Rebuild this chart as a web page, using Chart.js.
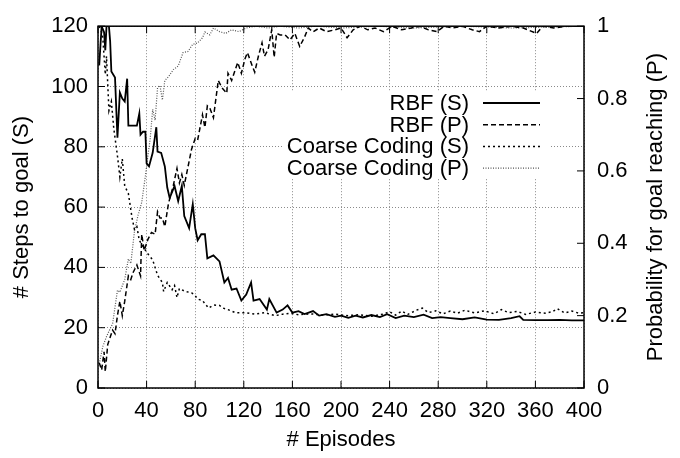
<!DOCTYPE html>
<html>
<head>
<meta charset="utf-8">
<script src="https://cdn.jsdelivr.net/npm/chart.js@4.4.0/dist/chart.umd.min.js"></script>
<style>
  html, body { margin: 0; padding: 0; background: #fff; }
</style>
</head>
<body>
<canvas id="c" width="680" height="458"></canvas>
<script>
// values: episode numbers + value per series
const seriesNames = ['RBF (S)', 'RBF (P)', 'Coarse Coding (S)', 'Coarse Coding (P)'];

const rbfStepsEp = [1,3,5,6,7,9,10,11,14,16,18,20,22,24,25,28,32,34,35,37,39,40,42,45,48,49,52,55,57,59,63,66,69,71,75,78,80,82,85,88,90,95,100,104,107,110,114,118,122,126,128,133,139,141,147,152,156,160,165,170,177,182,188,195,200,206,212,218,225,232,238,245,252,260,268,275,282,290,300,310,320,330,340,347,350,360,370,380,390,400];
const rbfSteps = [107,120,118,112,120,120,115,105,103,83,98,96,95,102.6,87,87,87,91,84,85,85,74.5,73.5,78,86.5,78.4,78,73.5,66.5,63,67,62,67,57,53,61,53,49,51,51,43,44,42,35,36.5,32.6,33,29,31,35,29,29.5,26,29.5,25,26,27.4,25,25.5,24.5,25.5,24,24.5,23.6,24,23.3,24,23.4,24.2,23.5,24.5,23.2,24,23.5,24.3,23.2,23.5,23.2,22.8,23.4,22.7,22.6,23.2,23.8,22.6,22.5,22.5,22.6,22.4,22.4];

const rbfProbEp = [1,3,5,6,8,10,12,14,16,18,20,22,25,27,29,32,35,36,38,41,44,47,49,51,53,55,58,62,65,67,69,71,74,77,80,82,84,86,88,90,92,95,99,102,106,107,110,113,115,118,121,123,127,129,132,135,137,140,143,145,147,150,154,158,162,166,170,173,177,182,188,195,200,205,210,216,222,228,235,242,250,258,265,272,279,285,292,300,308,314,320,330,340,350,361,366,375,385,400];
const rbfProb = [0.07,0.05,0.1,0.045,0.12,0.14,0.16,0.15,0.2,0.24,0.2,0.24,0.31,0.3,0.32,0.34,0.31,0.425,0.38,0.41,0.43,0.425,0.487,0.47,0.47,0.446,0.51,0.56,0.607,0.567,0.59,0.56,0.61,0.66,0.69,0.685,0.72,0.755,0.72,0.78,0.774,0.747,0.85,0.83,0.815,0.87,0.85,0.88,0.9,0.87,0.91,0.927,0.89,0.873,0.917,0.954,0.917,0.935,0.99,0.914,0.98,0.976,0.976,0.962,0.98,0.944,0.97,0.995,0.984,0.995,0.985,0.99,0.995,0.968,0.99,1,0.99,0.995,0.985,1,0.99,0.995,1,0.99,0.985,1,0.995,1,0.99,0.985,1,0.995,1,0.995,0.98,1,0.995,1,1];

const ccStepsEp = [1,3,4,6,7,9,11,13,14,16,18,20,22,25,28,30,32,34,37,40,45,49,53,54,57,61,63,65,67,72,77,80,82,86,91,95,100,103,107,113,121,129,137,146,152,158,165,175,185,195,205,215,225,235,240,245,250,255,262,267,272,278,284,290,296,302,310,318,326,332,338,345,352,360,368,374,378,384,390,396,400];
const ccSteps = [120,118,116,104,110,92,95,86,83,77,70,76,67,64.5,56.5,52.6,53.5,49,47,45,42.5,37.4,35,32,35,32.6,34,30,33,32,31.6,30.6,29.5,29,26.5,27.5,27.4,26.5,26,25,25,24.5,25,24,24.5,24.8,24.3,24.6,24.2,24.5,24,24.3,23.8,24.5,25.3,24.2,25.5,24.4,25.8,26.5,25,25.6,24.6,25.5,24.8,25.8,24.9,25.6,24.6,26,25,25.4,24.4,25.2,24.8,25.3,26.3,24.9,25.5,24.8,25];

const ccProbEp = [1,4,7,10,12,16,18,22,25,27,30,33,36,39,41,43,45,47,49,51,53,55,58,62,66,70,74,78,82,86,88,92,95,100,105,110,116,122,130,140,150,165,180,200,230,260,300,340,400];
const ccProb = [0.067,0.115,0.142,0.164,0.177,0.27,0.265,0.3,0.357,0.344,0.433,0.478,0.513,0.586,0.64,0.69,0.77,0.74,0.83,0.836,0.796,0.85,0.86,0.88,0.89,0.927,0.93,0.95,0.954,0.968,0.984,0.976,0.995,0.985,0.98,0.99,0.985,0.995,1,0.995,1,0.995,1,0.995,1,0.995,1,0.995,1];

const FONT = "'Liberation Sans', Arial, sans-serif";
const FS = 22;
const styles = [
  { color: '#000', width: 1.8, dash: [] },
  { color: '#000', width: 1.5, dash: [5, 3] },
  { color: '#000', width: 1.5, dash: [2, 3] },
  { color: '#555', width: 1.2, dash: [1, 1.5] }
];

function pts(ep, v) { return ep.map((e, i) => ({ x: e, y: v[i] })); }

const seriesData = [pts(rbfStepsEp, rbfSteps), pts(rbfProbEp, rbfProb), pts(ccStepsEp, ccSteps), pts(ccProbEp, ccProb)];
const axisOf = ['y', 'y1', 'y', 'y1'];

// gnuplot-like frame, inward tics, opaque key, right label
const gnuplotBits = {
  id: 'gnuplotBits',
  afterDatasetsDraw(chart) {
    const ctx = chart.ctx, a = chart.chartArea;
    const sx = chart.scales.x, sy = chart.scales.y, sy1 = chart.scales.y1;
    ctx.save();
    // key
    ctx.fillStyle = '#fff';
    ctx.fillRect(284, 91, 266, 88);
    ctx.font = FS + 'px ' + FONT;
    ctx.textAlign = 'right';
    ctx.textBaseline = 'middle';
    ctx.fillStyle = '#000';
    seriesNames.forEach((n, i) => {
      const y = 103 + i * 21.7;
      ctx.fillText(n, 469, y + 1);
      ctx.beginPath();
      ctx.strokeStyle = styles[i].color;
      ctx.lineWidth = styles[i].width;
      ctx.setLineDash(styles[i].dash);
      ctx.moveTo(483, y); ctx.lineTo(540, y);
      ctx.stroke();
    });
    ctx.setLineDash([]);
    // tics
    ctx.strokeStyle = '#000';
    ctx.lineWidth = 1;
    ctx.beginPath();
    sx.ticks.forEach(t => {
      const px = sx.getPixelForValue(t.value);
      ctx.moveTo(px, a.bottom); ctx.lineTo(px, a.bottom - 7);
      ctx.moveTo(px, a.top); ctx.lineTo(px, a.top + 7);
    });
    sy.ticks.forEach(t => {
      const py = sy.getPixelForValue(t.value);
      ctx.moveTo(a.left, py); ctx.lineTo(a.left + 7, py);
    });
    sy1.ticks.forEach(t => {
      const py = sy1.getPixelForValue(t.value);
      ctx.moveTo(a.right, py); ctx.lineTo(a.right - 7, py);
    });
    ctx.stroke();
    // frame
    ctx.lineWidth = 1.5;
    ctx.strokeRect(a.left, a.top, a.right - a.left, a.bottom - a.top);
    // right axis label, reads bottom to top
    ctx.translate(656, (a.top + a.bottom) / 2);
    ctx.rotate(-Math.PI / 2);
    ctx.textAlign = 'center';
    ctx.font = FS + 'px ' + FONT;
    ctx.fillText('Probability for goal reaching (P)', 0, 0);
    ctx.restore();
  }
};

const gridCol = '#8a8a8a';

new Chart(document.getElementById('c'), {
  type: 'line',
  data: {
    datasets: seriesData.map((d, i) => ({
      label: seriesNames[i],
      data: d,
      yAxisID: axisOf[i],
      borderColor: styles[i].color,
      borderWidth: styles[i].width,
      borderDash: styles[i].dash,
      pointRadius: 0,
      tension: 0,
      fill: false
    }))
  },
  options: {
    responsive: false,
    animation: false,
    devicePixelRatio: 1,
    layout: { padding: { top: 16, left: 0, right: 0, bottom: 0 } },
    plugins: { legend: { display: false }, tooltip: { enabled: false } },
    scales: {
      x: {
        type: 'linear', min: 0, max: 400,
        afterFit(s) { s.height = 70; },
        ticks: { stepSize: 40, autoSkip: false, maxRotation: 0, padding: 10, color: '#000', font: { family: FONT, size: FS } },
        grid: { color: gridCol, lineWidth: 1, drawTicks: false },
        border: { display: false, dash: [1, 2] },
        title: { display: true, text: '# Episodes', color: '#000', font: { family: FONT, size: FS, lineHeight: 1 }, padding: { top: 0, bottom: 7 } }
      },
      y: {
        position: 'left', min: 0, max: 120,
        afterFit(s) { s.width = 98; },
        ticks: { stepSize: 20, padding: 10, color: '#000', font: { family: FONT, size: FS } },
        grid: { color: gridCol, lineWidth: 1, drawTicks: false },
        border: { display: false, dash: [1, 2] },
        title: { display: true, text: '# Steps to goal (S)', color: '#000', font: { family: FONT, size: FS, lineHeight: 1 }, padding: { top: 11, bottom: 0 } }
      },
      y1: {
        position: 'right', min: 0, max: 1,
        afterFit(s) { s.width = 96; },
        ticks: { stepSize: 0.2, padding: 13, color: '#000', font: { family: FONT, size: FS },
          callback: v => String(Math.round(v * 10) / 10) },
        grid: { display: false, drawTicks: false },
        border: { display: false }
      }
    }
  },
  plugins: [gnuplotBits]
});
</script>
</body>
</html>
